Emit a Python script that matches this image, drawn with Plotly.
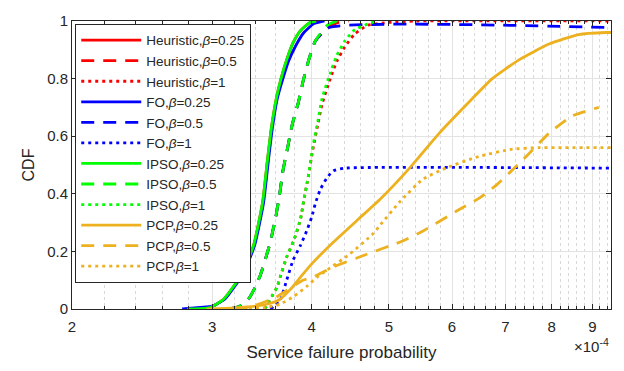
import plotly.graph_objects as go

# x values in units of 1e-4
heur_025_x = [2.79, 2.98, 3.10, 3.19, 3.28, 3.38, 3.47, 3.52, 3.56, 3.61, 3.66, 3.72, 3.79, 3.87, 3.98, 4.10]
heur_025_y = [0.0, 0.005, 0.034, 0.078, 0.13, 0.22, 0.37, 0.52, 0.63, 0.73, 0.80, 0.865, 0.925, 0.966, 0.995, 1.0]
heur_05_x = [3.15, 3.25, 3.33, 3.40, 3.45, 3.53, 3.56, 3.61, 3.65, 3.68, 3.73, 3.78, 3.85, 3.90, 3.96, 4.04, 4.18, 4.30, 4.45]
heur_05_y = [0.0, 0.01, 0.034, 0.078, 0.12, 0.21, 0.25, 0.33, 0.41, 0.48, 0.56, 0.64, 0.72, 0.79, 0.86, 0.93, 0.975, 0.993, 1.0]
heur_1_x = [3.49, 3.62, 3.65, 3.72, 3.80, 3.87, 3.91, 3.96, 4.01, 4.07, 4.12, 4.22, 4.30, 4.40, 4.53, 4.70, 5.00, 5.40, 9.50]
heur_1_y = [0.0, 0.078, 0.11, 0.18, 0.24, 0.31, 0.38, 0.46, 0.55, 0.64, 0.71, 0.80, 0.86, 0.91, 0.955, 0.985, 0.995, 1.0, 1.0]

fo_025_x = [2.75, 2.90, 3.00, 3.11, 3.20, 3.29, 3.39, 3.48, 3.53, 3.57, 3.62, 3.68, 3.74, 3.82, 3.91, 4.02, 4.15]
fo_025_y = [0.0, 0.006, 0.01, 0.034, 0.078, 0.13, 0.22, 0.37, 0.52, 0.63, 0.73, 0.80, 0.86, 0.915, 0.96, 0.99, 1.0]
fo_05_x = [3.15, 3.25, 3.33, 3.40, 3.45, 3.53, 3.56, 3.61, 3.65, 3.68, 3.73, 3.78, 3.85, 3.90, 3.96, 4.04, 4.20, 9.50]
fo_05_y = [0.0, 0.01, 0.034, 0.078, 0.12, 0.21, 0.25, 0.33, 0.41, 0.48, 0.56, 0.64, 0.72, 0.79, 0.86, 0.93, 0.977, 0.977]
fo_1_x = [3.55, 3.65, 3.72, 3.79, 3.87, 3.94, 4.00, 4.04, 4.10, 4.18, 4.26, 4.40, 9.50]
fo_1_y = [0.0, 0.03, 0.10, 0.17, 0.22, 0.27, 0.32, 0.365, 0.415, 0.456, 0.48, 0.489, 0.489]

ipso_025_x = [2.79, 2.98, 3.10, 3.19, 3.28, 3.38, 3.47, 3.52, 3.56, 3.61, 3.66, 3.72, 3.79, 3.87, 3.98, 4.05]
ipso_025_y = [0.0, 0.005, 0.034, 0.078, 0.13, 0.22, 0.37, 0.52, 0.63, 0.73, 0.80, 0.865, 0.925, 0.966, 0.995, 1.0]
ipso_05_x = [3.15, 3.25, 3.33, 3.40, 3.45, 3.53, 3.56, 3.61, 3.65, 3.68, 3.73, 3.78, 3.85, 3.90, 3.96, 4.04, 4.18, 4.30]
ipso_05_y = [0.0, 0.01, 0.034, 0.078, 0.12, 0.21, 0.25, 0.33, 0.41, 0.48, 0.56, 0.64, 0.72, 0.79, 0.86, 0.93, 0.985, 1.0]
ipso_1_x = [3.49, 3.62, 3.65, 3.72, 3.80, 3.87, 3.91, 3.96, 4.01, 4.07, 4.12, 4.22, 4.30, 4.40, 4.53, 4.82]
ipso_1_y = [0.0, 0.078, 0.11, 0.18, 0.24, 0.31, 0.38, 0.46, 0.56, 0.65, 0.73, 0.82, 0.88, 0.93, 0.97, 1.0]

pcp_025_x = [2.95, 3.20, 3.40, 3.55, 3.65, 3.76, 3.87, 4.01, 4.25, 4.59, 4.87, 5.31, 5.78, 6.36, 6.74, 7.28, 7.94, 8.65, 9.36, 9.50]
pcp_025_y = [0.0, 0.004, 0.01, 0.02, 0.034, 0.068, 0.11, 0.16, 0.23, 0.315, 0.38, 0.49, 0.61, 0.73, 0.80, 0.865, 0.92, 0.953, 0.96, 0.96]
pcp_05_x = [3.20, 3.35, 3.60, 3.90, 4.01, 4.25, 4.69, 5.20, 5.51, 6.08, 6.49, 6.82, 7.28, 7.56, 7.94, 8.49, 9.17]
pcp_05_y = [0.0, 0.007, 0.04, 0.10, 0.11, 0.145, 0.19, 0.236, 0.27, 0.34, 0.385, 0.43, 0.505, 0.55, 0.61, 0.67, 0.70]
pcp_1_x = [3.20, 3.49, 3.65, 3.80, 3.94, 4.06, 4.18, 4.46, 4.77, 4.87, 5.15, 5.51, 5.90, 6.49, 7.14, 7.71, 9.50]
pcp_1_y = [0.0, 0.005, 0.017, 0.044, 0.078, 0.11, 0.135, 0.19, 0.26, 0.29, 0.37, 0.45, 0.49, 0.53, 0.555, 0.56, 0.56]

x_tick_vals = [2, 3, 4, 5, 6, 7, 8, 9]
x_tick_text = ["2", "3", "4", "5", "6", "7", "8", "9"]
x_minor_vals = [2.2, 2.4, 2.6, 2.8, 3.2, 3.4, 3.6, 3.8, 4.2, 4.4, 4.6, 4.8,
                5.2, 5.4, 5.6, 5.8, 6.2, 6.4, 6.6, 6.8, 7.2, 7.4, 7.6, 7.8,
                8.2, 8.4, 8.6, 8.8, 9.2, 9.4]
y_tick_vals = [0, 0.2, 0.4, 0.6, 0.8, 1]

RED, BLUE, GREEN, ORANGE = "#FF0000", "#0000FF", "#00FF00", "#EDB120"
DASH = "13px,9px"
DOT = "3px,4px"

series = [
    ("Heuristic", "0.25", heur_025_x, heur_025_y, RED, "solid"),
    ("Heuristic", "0.5", heur_05_x, heur_05_y, RED, DASH),
    ("Heuristic", "1", heur_1_x, heur_1_y, RED, DOT),
    ("FO", "0.25", fo_025_x, fo_025_y, BLUE, "solid"),
    ("FO", "0.5", fo_05_x, fo_05_y, BLUE, DASH),
    ("FO", "1", fo_1_x, fo_1_y, BLUE, DOT),
    ("IPSO", "0.25", ipso_025_x, ipso_025_y, GREEN, "solid"),
    ("IPSO", "0.5", ipso_05_x, ipso_05_y, GREEN, DASH),
    ("IPSO", "1", ipso_1_x, ipso_1_y, GREEN, DOT),
    ("PCP", "0.25", pcp_025_x, pcp_025_y, ORANGE, "solid"),
    ("PCP", "0.5", pcp_05_x, pcp_05_y, ORANGE, DASH),
    ("PCP", "1", pcp_1_x, pcp_1_y, ORANGE, DOT),
]

FONT = "Liberation Sans, Arial, sans-serif"
TXT = "#262626"

fig = go.Figure()
for i, (name, beta, xs, ys, color, dash) in enumerate(series):
    fig.add_trace(go.Scatter(
        x=xs, y=ys, mode="lines",
        name=f"{name},<i>β</i>={beta}",
        legendgroup=f"g{i}",
        line=dict(color=color, width=2.8, dash=dash, shape="spline", smoothing=0.5),
    ))

fig.update_layout(
    width=624, height=371,
    margin=dict(l=72, r=12, t=16, b=58),
    paper_bgcolor="white", plot_bgcolor="white",
    font=dict(family=FONT, size=15, color=TXT),
    showlegend=True,
    legend=dict(
        x=0.006, y=0.99, xanchor="left", yanchor="top",
        bgcolor="white", bordercolor=TXT, borderwidth=1,
        font=dict(family=FONT, size=13.5, color=TXT),
        tracegroupgap=0, itemwidth=60,
    ),
    xaxis=dict(
        type="log", range=[0.30103, 0.97772],
        tickmode="array", tickvals=x_tick_vals, ticktext=x_tick_text,
        ticks="inside", ticklen=5, tickcolor=TXT, ticklabelstandoff=4,
        showline=True, linecolor=TXT, linewidth=1, mirror="ticks",
        showgrid=True, gridcolor="#E3E3E3", gridwidth=1,
        minor=dict(tickmode="array", tickvals=x_minor_vals, ticks="inside", ticklen=3,
                   tickcolor=TXT, showgrid=True, gridcolor="#D8D8D8", griddash="dot", gridwidth=1),
        title=dict(text="Service failure probability", font=dict(size=17), standoff=12),
        zeroline=False,
    ),
    yaxis=dict(
        range=[0, 1], tickvals=y_tick_vals,
        ticks="inside", ticklen=5, tickcolor=TXT,
        showline=True, linecolor=TXT, linewidth=1, mirror="ticks",
        showgrid=True, gridcolor="#E3E3E3", gridwidth=1,
        title=dict(text="CDF", font=dict(size=16), standoff=8),
        zeroline=False,
    ),
    annotations=[dict(
        text="×10<sup>-4</sup>", xref="paper", yref="paper", x=1.0, y=-0.125,
        xanchor="right", yanchor="middle", showarrow=False,
        font=dict(family=FONT, size=15, color=TXT),
    )],
)

fig.write_html("out.html")
